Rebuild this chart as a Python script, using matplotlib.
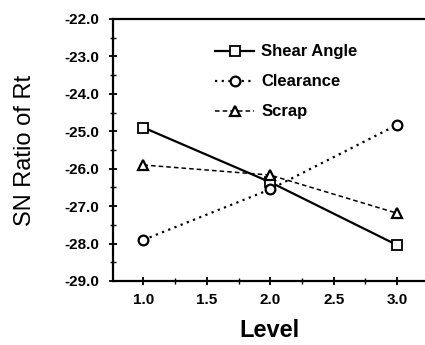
import matplotlib
matplotlib.use("Agg")
import matplotlib.pyplot as plt
from matplotlib.ticker import MultipleLocator

levels = [1.0, 2.0, 3.0]
shear_angle = [-24.9, -26.36, -28.04]
clearance = [-27.9, -26.55, -24.83]
scrap = [-25.9, -26.17, -27.19]
yticks = [-22.0, -23.0, -24.0, -25.0, -26.0, -27.0, -28.0, -29.0]
xticks = [1.0, 1.5, 2.0, 2.5, 3.0]

plt.rcParams['font.family'] = ['Liberation Sans', 'DejaVu Sans']

fig = plt.figure(figsize=(4.25, 3.45), dpi=100)
ax = fig.add_axes([113/425, 1-281/345, 1-113/425, (281-19)/345])

ax.plot(levels, shear_angle, color='black', lw=1.6, ls='-', marker='s', ms=7,
        mfc='white', mec='black', mew=1.3, label='Shear Angle')
ax.plot(levels, clearance, color='black', lw=1.6, ls=(0, (1, 2)), marker='o', ms=7,
        mfc='white', mec='black', mew=1.6, label='Clearance')
ax.plot(levels, scrap, color='black', lw=1.1, ls=(0, (3, 2)), marker='^', ms=7,
        mfc='white', mec='black', mew=1.6, label='Scrap')

ax.set_xlim(0.76, 3.22)
ax.set_ylim(-29.0, -22.0)
ax.set_xticks(xticks)
ax.set_xticklabels([f"{v:.1f}" for v in xticks], fontweight='bold', fontsize=11)
ax.set_yticks(yticks)
ax.set_yticklabels([f"{v:.1f}" for v in yticks], fontweight='bold', fontsize=11)
ax.xaxis.set_minor_locator(MultipleLocator(0.25))
ax.yaxis.set_minor_locator(MultipleLocator(0.5))
ax.tick_params(which='major', direction='inout', length=6, width=1.3)
ax.tick_params(which='minor', direction='inout', length=4, width=1.0)
ax.tick_params(axis='x', pad=6)
ax.tick_params(axis='y', pad=7)

for s in ['left', 'bottom', 'top']:
    ax.spines[s].set_linewidth(1.6)
ax.spines['right'].set_visible(False)

ax.set_xlabel('Level', fontsize=17, fontweight='bold', labelpad=8)
ax.set_ylabel('SN Ratio of Rt', fontsize=17, labelpad=20)

leg = ax.legend(loc='upper left', bbox_to_anchor=(0.28, 0.96), frameon=False,
                fontsize=12, labelspacing=0.9, handlelength=2.3, handletextpad=0.45)
for t in leg.get_texts():
    t.set_fontweight('bold')

fig.savefig('out.png', dpi=100)
